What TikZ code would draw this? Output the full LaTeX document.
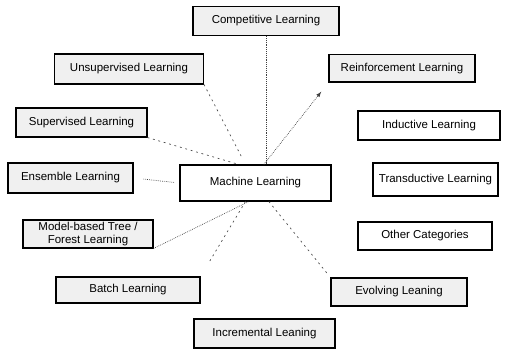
\documentclass[tikz,border=0pt]{standalone}
\usepackage{fontspec}
\setmainfont{Liberation Sans}
\usepackage{tikz}

\begin{document}
\begin{tikzpicture}[
	every node/.style={font=\fontsize{9.8}{11.5}\selectfont},
	catbox/.style={draw, line width=0.9pt, fill=black!6, align=center, inner sep=2pt},
	plainbox/.style={draw, line width=0.9pt, fill=white, align=center, inner sep=2pt},
	link/.style={densely dotted, line width=0.6pt, black!75},
	faint/.style={dash pattern=on 1.6pt off 3.2pt, line width=0.6pt, black!70}
	]
	\useasboundingbox (0,0) rectangle (15.27,10.47);
	
	% Centre
	\node[
	plainbox,
	minimum width=4.53cm,
	minimum height=1.08cm
	] (mach) at (7.665,4.98)
	{Machine Learning};
	
	% Categories on the left and top
	\node[
	catbox,
	minimum width=4.38cm,
	minimum height=0.87cm
	] (comp) at (7.98,9.84)
	{Competitive Learning};
	
	\node[
	catbox,
	minimum width=4.47cm,
	minimum height=0.90cm
	] (unsup) at (3.87,8.40)
	{Unsupervised Learning};
	
	\node[
	catbox,
	minimum width=4.38cm,
	minimum height=0.82cm
	] (reinf) at (12.06,8.42)
	{Reinforcement Learning};
	
	\node[
	catbox,
	minimum width=3.93cm,
	minimum height=0.87cm
	] (sup) at (2.445,6.795)
	{Supervised Learning};
	
	\node[
	catbox,
	minimum width=3.75cm,
	minimum height=0.90cm
	] (ens) at (2.115,5.13)
	{Ensemble Learning};
	
	\node[
	catbox,
	minimum width=3.90cm,
	minimum height=0.84cm,
	inner sep=1pt
	] (model) at (2.64,3.45)
	{Model-based Tree /\\Forest Learning};
	
	\node[
	catbox,
	minimum width=4.32cm,
	minimum height=0.78cm
	] (batch) at (3.84,1.77)
	{Batch Learning};
	
	\node[
	catbox,
	minimum width=4.23cm,
	minimum height=0.87cm
	] (incr) at (7.935,0.465)
	{Incremental Leaning};
	
	\node[
	catbox,
	minimum width=4.08cm,
	minimum height=0.84cm
	] (evolv) at (11.97,1.71)
	{Evolving Leaning};
	
	% Categories on the right
	\node[
	plainbox,
	minimum width=4.26cm,
	minimum height=0.87cm
	] (induct) at (12.87,6.705)
	{Inductive Learning};
	
	\node[
	plainbox,
	minimum width=3.75cm,
	minimum height=0.99cm
	] (transd) at (13.065,5.085)
	{Transductive Learning};
	
	\node[
	plainbox,
	minimum width=4.02cm,
	minimum height=0.84cm
	] (other) at (12.75,3.39)
	{Other Categories};
	
	% Links to the centre
	\draw[link] (comp.south) -- (comp.south |- mach.north);
	\draw[faint, shorten >=0.2cm] (unsup.south east) -- ([xshift=-0.3cm]mach.north);
	\draw[faint, shorten >=0.1cm] (sup.south east) -- ([xshift=-0.5cm]mach.north);
	\draw[link, -latex, shorten >=0.35cm] ([xshift=0.25cm]mach.north) -- (reinf.south west);
	\draw[link, shorten <=0.3cm, shorten >=0.15cm] (ens.east) -- (mach.west);
	\draw[link] (model.south east) -- ([xshift=-0.2cm]mach.south);
	\draw[faint, shorten >=0.5cm] ([xshift=-0.3cm]mach.south) -- (batch.north east);
	\draw[faint, shorten >=0.1cm] ([xshift=0.4cm]mach.south) -- (evolv.north west);
\end{tikzpicture}
\end{document}
